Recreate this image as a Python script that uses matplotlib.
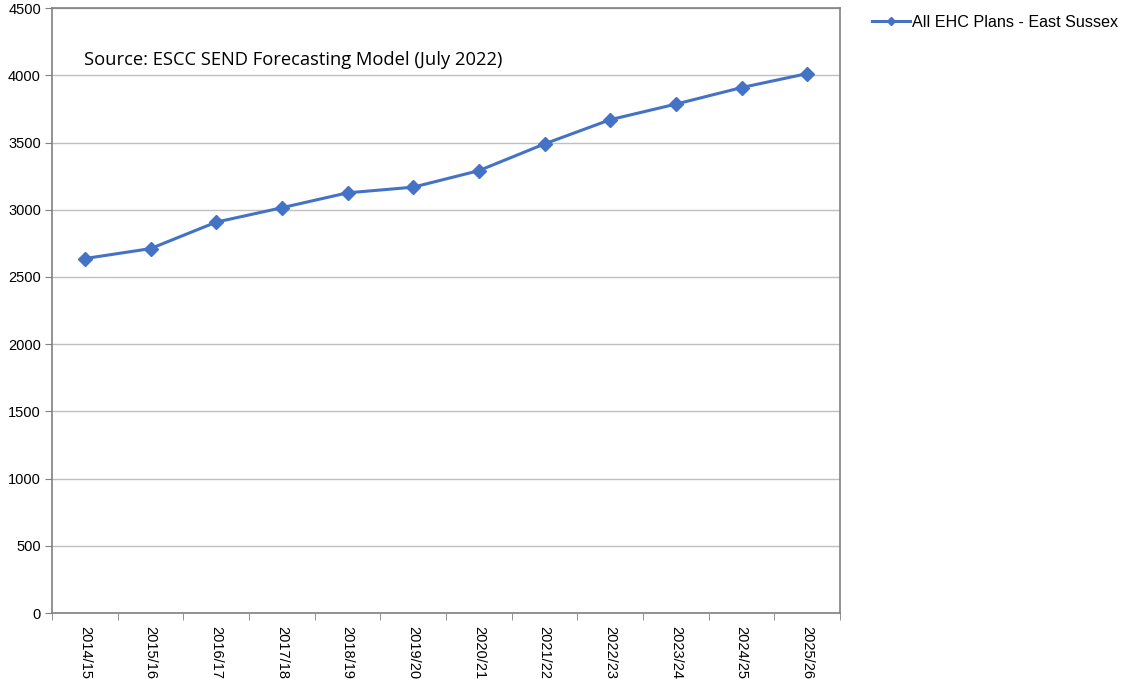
import matplotlib
matplotlib.use("Agg")
import matplotlib.pyplot as plt

years = ["2014/15", "2015/16", "2016/17", "2017/18", "2018/19", "2019/20",
         "2020/21", "2021/22", "2022/23", "2023/24", "2024/25", "2025/26"]
ehc_plans = [2637, 2711, 2908, 3015, 3126, 3168, 3291, 3490, 3670, 3786, 3909, 4013]
yticks = [0, 500, 1000, 1500, 2000, 2500, 3000, 3500, 4000, 4500]

plt.rcParams['font.family'] = ['Liberation Sans', 'DejaVu Sans']

fig = plt.figure(figsize=(11.28, 6.79), dpi=100)
ax = fig.add_axes([0.0461, 0.0972, 0.6986, 0.8908])

xs = range(len(years))
ax.plot(xs, ehc_plans, color='#4472C4', lw=2.2, marker='D', ms=7,
        label='All EHC Plans - East Sussex')

ax.set_xlim(-0.5, len(years) - 0.5)
ax.set_ylim(0, 4500)
ax.set_yticks(yticks)
ax.tick_params(axis='y', labelsize=10.5, length=5, color='#808080', pad=3)
ax.set_xticks(list(xs))
ax.set_xticklabels(years, rotation=-90, fontsize=10.5)
ax.tick_params(axis='x', length=0, pad=9)
# category boundary ticks
ax.set_xticks([i - 0.5 for i in range(len(years) + 1)], minor=True)
ax.tick_params(axis='x', which='minor', length=5, color='#808080')

ax.grid(axis='y', color='#c0c0c0', lw=1)
ax.set_axisbelow(True)
for s in ax.spines.values():
    s.set_color('#808080')
    s.set_linewidth(1.2)

ax.text(0.04, 0.915, 'Source: ESCC SEND Forecasting Model (July 2022)',
        transform=ax.transAxes, fontsize=13.2, family=['Open Sans', 'DejaVu Sans'],
        va='center', ha='left')

ax.legend(loc='upper left', bbox_to_anchor=(1.033, 1.0), frameon=False,
          fontsize=11.6, handlelength=2.3, handletextpad=0.15, borderaxespad=0,
          markerscale=0.6)

fig.savefig('out.png', dpi=100)
